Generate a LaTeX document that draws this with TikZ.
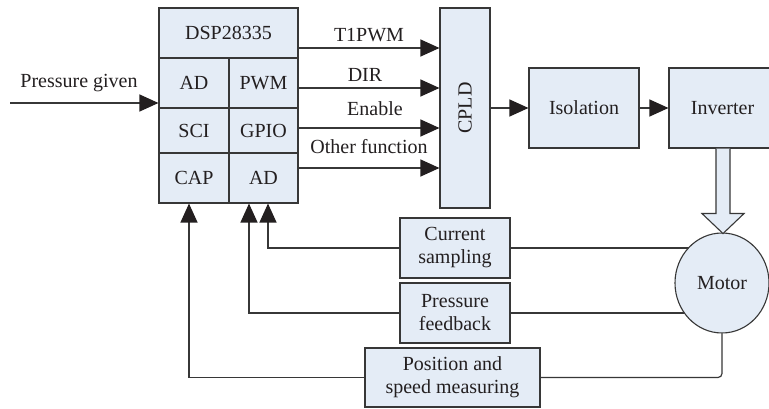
\documentclass[tikz,border=0pt]{standalone}
\usepackage{fontspec}
\setmainfont{Liberation Serif}
\usetikzlibrary{arrows.meta,shapes.geometric,backgrounds,calc}
\definecolor{boxfill}{RGB}{228,236,246}
\definecolor{linec}{RGB}{55,55,55}
\definecolor{inkc}{RGB}{35,31,32}

\begin{document}
\begin{tikzpicture}[x=1pt,y=-1pt,
  every node/.style={font=\fontsize{20}{23}\selectfont, text=inkc},
  box/.style={draw=linec, fill=boxfill, line width=1.1pt, inner sep=0pt, align=center},
  wire/.style={draw=linec, line width=1.2pt},
  sig/.style={wire, -{Triangle[length=19pt,width=17pt,color=inkc]}},
  lbl/.style={anchor=base, inner sep=0pt},
  fat/.style={draw=linec, fill=boxfill, line width=1.1pt, line join=miter},
]
\useasboundingbox (0,0) rectangle (769,409);

% DSP controller with its peripheral cells
\node[box, minimum width=139pt, minimum height=50pt] (dsp)  at (228.5,33)  {DSP28335};
\node[box, minimum width=70pt,  minimum height=50pt] (ad1)  at (194,83)    {AD};
\node[box, minimum width=69pt,  minimum height=50pt] (pwm)  at (263.5,83)  {PWM};
\node[box, minimum width=70pt,  minimum height=45pt] (sci)  at (194,130.5) {SCI};
\node[box, minimum width=69pt,  minimum height=45pt] (gpio) at (263.5,130.5){GPIO};
\node[box, minimum width=70pt,  minimum height=50pt] (cap)  at (194,178)   {CAP};
\node[box, minimum width=69pt,  minimum height=50pt] (ad2)  at (263.5,178) {AD};

% power path
\node[box, minimum width=50pt,  minimum height=200pt] (cpld) at (465,108) {\rotatebox{90}{CPLD}};
\node[box, minimum width=110pt, minimum height=80pt]  (iso)  at (584,108) {Isolation};
\node[box, minimum width=107pt, minimum height=80pt]  (inv)  at (722.5,108) {Inverter};
\node[box, ellipse, minimum width=94pt, minimum height=100pt] (motor) at (722,283) {Motor};

% feedback blocks
\node[box, minimum width=110pt, minimum height=60pt] (cur) at (455,248)   {Current\\sampling};
\node[box, minimum width=110pt, minimum height=60pt] (pfb) at (455,313)   {Pressure\\feedback};
\node[box, minimum width=175pt, minimum height=59pt] (pos) at (452.5,377.5) {Position and\\speed measuring};

% reference input
\coordinate (pin) at (10,103);
\draw[sig] (pin) -- (pin -| ad1.west);
\node[lbl] (pglbl) at (79,88) {Pressure given};

% DSP to CPLD signals
\draw[sig] (dsp.east |- 0,48)  -- (cpld.west |- 0,48);
\draw[sig] (dsp.east |- 0,88)  -- (cpld.west |- 0,88);
\draw[sig] (dsp.east |- 0,128) -- (cpld.west |- 0,128);
\draw[sig] (dsp.east |- 0,168) -- (cpld.west |- 0,168);
\node[lbl] (l1) at (369,42)  {T1PWM};
\node[lbl] (l2) at (365,82)  {DIR};
\node[lbl] (l3) at (375,116) {Enable};
\node[lbl] (l4) at (369,154) {Other function};

\draw[sig] (cpld.east) -- (iso.west);
\draw[sig] (iso.east) -- (inv.west);

% hollow power arrow from inverter to motor
\draw[fat] ([xshift=-6pt]inv.south -| motor.north) -- ++(0,65) -- ++(-14,0)
  -- ++(21,20) -- ++(21,-20) -- ++(-14,0) -- ++(0,-65);

% sensor lines leaving the motor (hidden under its fill)
\begin{scope}[on background layer]
  \fill[white] (0,0) rectangle (769,409);
  \draw[wire] (cur.east) -- (cur.east -| motor.center);
  \draw[wire] (pfb.east) -- (pfb.east -| motor.center);
\end{scope}
\draw[wire, rounded corners=4pt] (motor.south) |- (pos.east);

% feedback into the DSP
\draw[sig] (cur.west) -| ([xshift=4.5pt]ad2.south);
\draw[sig] (pfb.west) -| ([xshift=-14.5pt]ad2.south);
\draw[sig] (pos.west) -| ([xshift=-5pt]cap.south);
\end{tikzpicture}
\end{document}
